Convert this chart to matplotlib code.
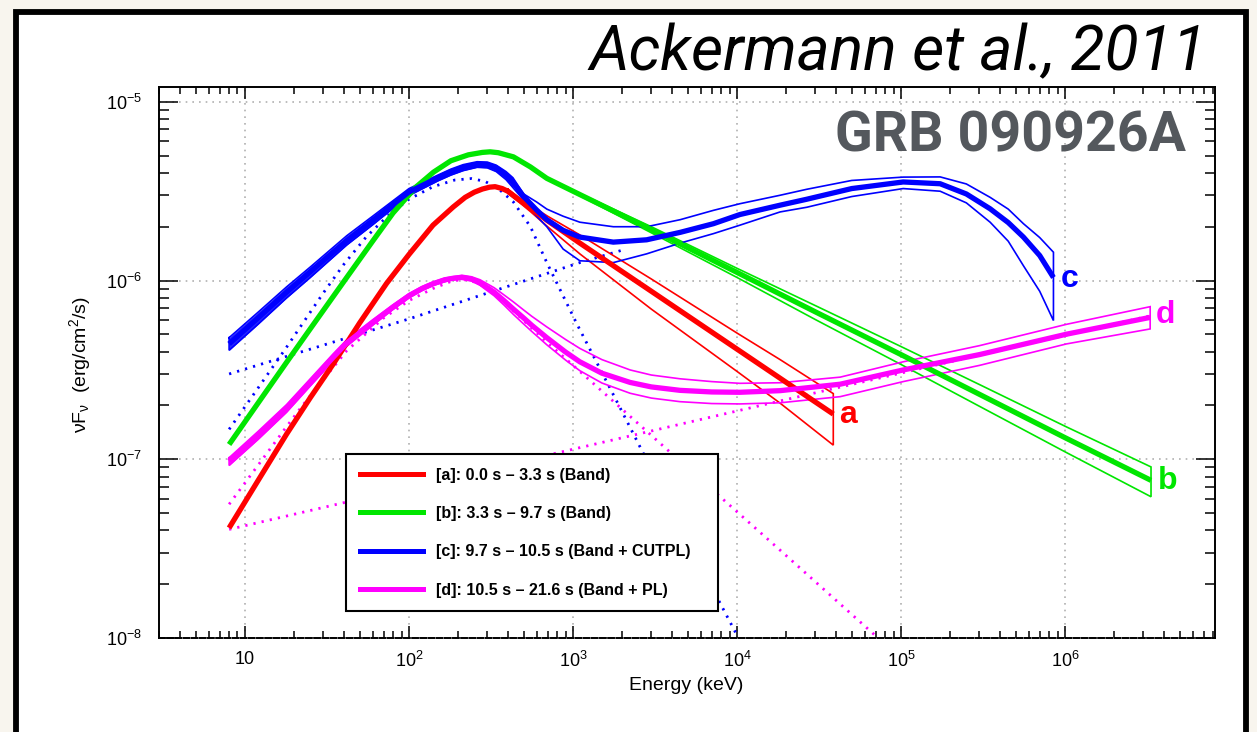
import numpy as np
import matplotlib
matplotlib.use("Agg")
import matplotlib.pyplot as plt
from matplotlib.lines import Line2D
from matplotlib.patches import Rectangle
from matplotlib.ticker import LogLocator, FixedLocator, FuncFormatter, NullFormatter

plt.rcParams['font.family'] = ['Liberation Sans', 'DejaVu Sans']
plt.rcParams['mathtext.fontset'] = 'custom'
plt.rcParams['mathtext.rm'] = 'Liberation Sans'
plt.rcParams['mathtext.it'] = 'Liberation Sans:italic'
plt.rcParams['mathtext.bf'] = 'Liberation Sans:bold'

# ---------------- spectral data: energy (keV) and nuFnu (erg/cm^2/s) ----------------
# [a] 0.0 - 3.3 s, Band
a_E = [8, 12, 17.9, 25, 34.5, 50, 73, 100, 140, 186, 220, 250, 280, 310, 335, 370, 400,
       470, 550, 700, 1100, 3000, 1.0e4, 1.83e4, 3.86e4]
a_F = [4.13e-8, 7.59e-8, 1.38e-7, 2.21e-7, 3.41e-7, 5.79e-7, 9.64e-7, 1.40e-6, 2.04e-6,
       2.58e-6, 2.92e-6, 3.12e-6, 3.25e-6, 3.33e-6, 3.35e-6, 3.27e-6, 3.16e-6, 2.82e-6,
       2.54e-6, 2.16e-6, 1.62e-6, 8.71e-7, 4.13e-7, 2.84e-7, 1.79e-7]
a_band_E = [400, 470, 550, 700, 1100, 3000, 1.0e4, 1.83e4, 3.86e4]
a_hi = [3.25e-6, 2.90e-6, 2.63e-6, 2.29e-6, 1.80e-6, 1.02e-6, 5.08e-7, 3.61e-7, 2.33e-7]
a_lo = [3.08e-6, 2.74e-6, 2.43e-6, 2.00e-6, 1.41e-6, 6.92e-7, 3.10e-7, 2.06e-7, 1.20e-7]

# [b] 3.3 - 9.7 s, Band
b_E = [8, 12, 17.9, 25, 41.7, 60, 80, 110, 141, 180, 230, 280, 312, 350, 433, 550, 692,
       1000, 3000, 1.0e4, 3.0e4, 1.0e5, 3.0e5, 1.0e6, 3.34e6]
b_F = [1.21e-7, 2.06e-7, 3.48e-7, 5.37e-7, 1.04e-6, 1.66e-6, 2.39e-6, 3.33e-6, 4.04e-6,
       4.68e-6, 5.05e-6, 5.21e-6, 5.25e-6, 5.19e-6, 4.92e-6, 4.32e-6, 3.73e-6, 3.16e-6,
       1.93e-6, 1.11e-6, 6.68e-7, 3.85e-7, 2.31e-7, 1.32e-7, 7.62e-8]
b_band_E = [692, 1000, 3000, 1.0e4, 3.0e4, 1.0e5, 3.0e5, 1.0e6, 3.34e6]
b_hi = [3.73e-6, 3.20e-6, 2.00e-6, 1.17e-6, 7.24e-7, 4.27e-7, 2.62e-7, 1.53e-7, 9.06e-8]
b_lo = [3.73e-6, 3.12e-6, 1.85e-6, 1.04e-6, 6.05e-7, 3.39e-7, 1.98e-7, 1.10e-7, 6.17e-8]

# [c] 9.7 - 10.5 s, Band + CUTPL
c_E = [8, 12, 17.9, 25, 41.7, 60, 100, 150, 180, 214, 260, 300, 340, 390, 430, 500,
       600, 692, 870, 1100, 1760, 2810, 4500, 7180, 1.04e4, 1.83e4, 2.66e4, 5.0e4,
       1.03e5, 1.73e5, 2.5e5, 3.49e5, 4.5e5, 5.57e5, 7.0e5, 8.49e5]
c_F = [4.42e-7, 6.17e-7, 8.59e-7, 1.12e-6, 1.67e-6, 2.17e-6, 3.13e-6, 3.76e-6, 4.06e-6,
       4.30e-6, 4.47e-6, 4.45e-6, 4.27e-6, 3.89e-6, 3.55e-6, 2.95e-6, 2.48e-6, 2.19e-6,
       1.91e-6, 1.75e-6, 1.64e-6, 1.69e-6, 1.86e-6, 2.08e-6, 2.34e-6, 2.64e-6, 2.85e-6,
       3.27e-6, 3.56e-6, 3.48e-6, 3.05e-6, 2.52e-6, 2.11e-6, 1.75e-6, 1.38e-6, 1.04e-6]
c_hi = [4.79e-7, 6.64e-7, 9.20e-7, 1.19e-6, 1.78e-6, 2.29e-6, 3.27e-6, 3.89e-6, 4.20e-6,
        4.45e-6, 4.62e-6, 4.60e-6, 4.42e-6, 4.07e-6, 3.76e-6, 3.05e-6, 2.75e-6, 2.51e-6,
        2.29e-6, 2.12e-6, 2.00e-6, 2.00e-6, 2.19e-6, 2.47e-6, 2.69e-6, 3.00e-6, 3.24e-6,
        3.63e-6, 3.79e-6, 3.80e-6, 3.47e-6, 2.92e-6, 2.51e-6, 2.08e-6, 1.74e-6, 1.44e-6]
c_lo = [4.07e-7, 5.69e-7, 7.98e-7, 1.04e-6, 1.58e-6, 2.05e-6, 2.99e-6, 3.61e-6, 3.89e-6,
        4.12e-6, 4.30e-6, 4.27e-6, 4.07e-6, 3.67e-6, 3.31e-6, 2.82e-6, 2.29e-6, 2.00e-6,
        1.50e-6, 1.29e-6, 1.26e-6, 1.41e-6, 1.62e-6, 1.83e-6, 2.04e-6, 2.42e-6, 2.57e-6,
        2.95e-6, 3.27e-6, 3.16e-6, 2.72e-6, 2.12e-6, 1.66e-6, 1.21e-6, 8.71e-7, 5.97e-7]
c_band_comp_E = [8, 12, 17.9, 30, 40, 55, 75, 100, 140, 190, 240, 290, 350, 433, 550,
                 692, 1052, 1936, 2564, 7870, 1.02e4]
c_band_comp_F = [1.47e-7, 2.50e-7, 4.23e-7, 8.51e-7, 1.23e-6, 1.76e-6, 2.32e-6, 2.85e-6,
                 3.35e-6, 3.65e-6, 3.72e-6, 3.59e-6, 3.27e-6, 2.75e-6, 2.00e-6, 1.26e-6,
                 5.75e-7, 1.94e-7, 1.17e-7, 1.57e-8, 1.0e-8]
c_cutpl_E = [8, 100, 1100, 2000]
c_cutpl_F = [3.00e-7, 6.10e-7, 1.26e-6, 1.48e-6]

# [d] 10.5 - 21.6 s, Band + PL
d_E = [8, 12, 17.9, 25, 34.5, 41.7, 60, 80, 100, 120, 140, 165, 186, 210, 240, 271,
       330, 380, 433, 500, 560, 692, 900, 1100, 1500, 2230, 3000, 4490, 7000, 1.04e4,
       1.83e4, 4.25e4, 1.03e5, 3.0e5, 1.02e6, 3.3e6]
d_F = [9.77e-8, 1.36e-7, 1.93e-7, 2.69e-7, 3.72e-7, 4.47e-7, 5.82e-7, 7.11e-7, 8.22e-7,
       9.02e-7, 9.59e-7, 1.01e-6, 1.03e-6, 1.04e-6, 1.02e-6, 9.72e-7, 8.61e-7, 7.71e-7,
       6.92e-7, 6.17e-7, 5.62e-7, 4.79e-7, 3.98e-7, 3.51e-7, 3.03e-7, 2.69e-7, 2.54e-7,
       2.43e-7, 2.38e-7, 2.37e-7, 2.42e-7, 2.63e-7, 3.16e-7, 3.85e-7, 5.01e-7, 6.22e-7]
d_hi = [1.02e-7, 1.43e-7, 2.02e-7, 2.82e-7, 3.89e-7, 4.66e-7, 6.03e-7, 7.33e-7, 8.45e-7,
        9.25e-7, 9.82e-7, 1.03e-6, 1.05e-6, 1.07e-6, 1.05e-6, 1.01e-6, 9.12e-7, 8.30e-7,
        7.59e-7, 6.84e-7, 6.31e-7, 5.50e-7, 4.68e-7, 4.17e-7, 3.61e-7, 3.16e-7, 2.96e-7,
        2.82e-7, 2.72e-7, 2.66e-7, 2.68e-7, 2.88e-7, 3.51e-7, 4.32e-7, 5.69e-7, 7.14e-7]
d_lo = [9.23e-8, 1.29e-7, 1.83e-7, 2.57e-7, 3.55e-7, 4.29e-7, 5.62e-7, 6.90e-7, 8.00e-7,
        8.79e-7, 9.38e-7, 9.84e-7, 1.01e-6, 1.02e-6, 9.95e-7, 9.40e-7, 8.22e-7, 7.28e-7,
        6.46e-7, 5.71e-7, 5.19e-7, 4.37e-7, 3.59e-7, 3.13e-7, 2.67e-7, 2.34e-7, 2.20e-7,
        2.10e-7, 2.05e-7, 2.04e-7, 2.07e-7, 2.24e-7, 2.72e-7, 3.35e-7, 4.42e-7, 5.36e-7]
d_band_comp_E = [8, 12, 17.9, 22.7, 41.7, 70, 100, 140, 186, 230, 271, 350, 433, 550,
                 692, 834, 1760, 3720, 7870, 1.83e4, 7.24e4]
d_band_comp_F = [5.60e-8, 9.25e-8, 1.52e-7, 2.03e-7, 4.05e-7, 6.17e-7, 7.73e-7, 9.02e-7,
                 1.00e-6, 1.01e-6, 9.55e-7, 8.13e-7, 6.76e-7, 5.50e-7, 4.52e-7, 3.89e-7,
                 2.11e-7, 1.14e-7, 6.18e-8, 3.10e-8, 1.0e-8]
d_pl_E = [8, 1.83e4, 3.3e6]
d_pl_F = [4.05e-8, 2.12e-7, 6.35e-7]

legend_labels = ["[a]: 0.0 s \u2013 3.3 s (Band)",
                 "[b]: 3.3 s \u2013 9.7 s (Band)",
                 "[c]: 9.7 s \u2013 10.5 s (Band + CUTPL)",
                 "[d]: 10.5 s \u2013 21.6 s (Band + PL)"]
curve_tags = ["a", "b", "c", "d"]
x_major_ticks = [10, 1e2, 1e3, 1e4, 1e5, 1e6]
y_major_ticks = [1e-8, 1e-7, 1e-6, 1e-5]

RED, GREEN, BLUE, MAGENTA = '#ff0000', '#00e600', '#0000ff', '#ff00ff'

# ---------------- figure and frame ----------------
W, H = 1257, 732
fig = plt.figure(figsize=(W / 100, H / 100), dpi=100)
fig.patch.set_facecolor('#f8f5ee')
frame = Rectangle((15.8 / W, -0.05), (1245.5 - 15.8) / W, 1 - 12 / H + 0.05,
                  transform=fig.transFigure, facecolor='white', edgecolor='black',
                  linewidth=4.2, zorder=-5)
fig.patches.append(frame)

ax = fig.add_axes([159 / W, 1 - 638 / H, (1215 - 159) / W, (638 - 87) / H])
ax.set_zorder(1)
ax.set_facecolor('white')
ax.set_xscale('log')
ax.set_yscale('log')
ax.set_xlim(2.99, 8.2e6)
ax.set_ylim(1e-8, 1.21e-5)

# ---------------- model components (dotted) ----------------
dot = (0, (0.8, 2.2))
ax.plot(c_band_comp_E, c_band_comp_F, color=BLUE, lw=2.0, ls=dot, zorder=2)
ax.plot(c_cutpl_E, c_cutpl_F, color=BLUE, lw=2.0, ls=dot, zorder=2)
ax.plot(d_band_comp_E, d_band_comp_F, color=MAGENTA, lw=2.0, ls=dot, zorder=2)
ax.plot(d_pl_E, d_pl_F, color=MAGENTA, lw=2.0, ls=dot, zorder=2)


def contour(E, hi, lo, color):
    xs = list(E) + list(E[::-1]) + [E[0]]
    ys = list(hi) + list(lo[::-1]) + [hi[0]]
    ax.plot(xs, ys, color=color, lw=1.2, zorder=3, solid_joinstyle='miter')


# ---------------- error contours ----------------
contour(a_band_E, a_hi, a_lo, RED)
contour(b_band_E, b_hi, b_lo, GREEN)
contour(c_E, c_hi, c_lo, BLUE)
contour(d_E, d_hi, d_lo, MAGENTA)

# dense low-energy part of the c and d bands
cE = np.array(c_E)
ax.fill_between(c_E, c_lo, c_hi, where=cE <= 430, color=BLUE, alpha=0.85, lw=0, zorder=3)
dE = np.array(d_E)
ax.fill_between(d_E, d_lo, d_hi, where=dE <= 271, color=MAGENTA, alpha=0.85, lw=0, zorder=3)

# ---------------- best-fit spectra ----------------
lw_c = 3.8
ax.plot(a_E, a_F, color=RED, lw=lw_c, zorder=4, solid_capstyle='butt')
ax.plot(b_E, b_F, color=GREEN, lw=lw_c, zorder=4, solid_capstyle='butt')
ax.plot(d_E, d_F, color=MAGENTA, lw=lw_c, zorder=4, solid_capstyle='butt')
ax.plot(c_E, c_F, color=BLUE, lw=lw_c, zorder=4, solid_capstyle='butt')

# curve tags at the high-energy ends
tag_style = dict(textcoords='offset pixels', fontsize=23, fontweight='bold',
                 ha='left', va='baseline', zorder=6)
ax.annotate(curve_tags[0], (a_E[-1], a_F[-1]), xytext=(6, -9), color=RED, **tag_style)
ax.annotate(curve_tags[1], (b_E[-1], b_F[-1]), xytext=(7, -9), color=GREEN, **tag_style)
ax.annotate(curve_tags[2], (c_E[-1], c_F[-1]), xytext=(7, -10), color=BLUE, **tag_style)
ax.annotate(curve_tags[3], (d_E[-1], d_F[-1]), xytext=(6, -6), color=MAGENTA, **tag_style)

# ---------------- axes styling ----------------
ax.xaxis.set_major_locator(FixedLocator(x_major_ticks))
ax.xaxis.set_minor_locator(LogLocator(base=10, subs=np.arange(2, 10), numticks=200))
ax.yaxis.set_major_locator(FixedLocator(y_major_ticks))
ax.yaxis.set_minor_locator(LogLocator(base=10, subs=np.arange(2, 10), numticks=200))


def xfmt(v, pos):
    e = int(round(np.log10(v)))
    return '10' if e == 1 else r'$10^{%d}$' % e


def yfmt(v, pos):
    e = int(round(np.log10(v)))
    return r'$10^{%d}$' % e


ax.xaxis.set_major_formatter(FuncFormatter(xfmt))
ax.yaxis.set_major_formatter(FuncFormatter(yfmt))
ax.xaxis.set_minor_formatter(NullFormatter())
ax.yaxis.set_minor_formatter(NullFormatter())

ax.tick_params(which='both', direction='in', top=True, right=True, width=1.1,
               color='black', labelsize=13)
ax.tick_params(axis='x', which='major', length=8.6, pad=9)
ax.tick_params(axis='x', which='minor', length=5)
ax.tick_params(axis='y', which='major', length=14, pad=12)
ax.tick_params(axis='y', which='minor', length=7.5)

for s in ax.spines.values():
    s.set_linewidth(1.4)
ax.spines['bottom'].set_linestyle((0, (3, 1.2)))

ax.grid(which='major', color='#b0b0b0', linestyle=(0, (1, 3)), linewidth=1.2)

# ---------------- legend ----------------
handles = [Line2D([], [], color=c, lw=3.6) for c in (RED, GREEN, BLUE, MAGENTA)]
leg = ax.legend(handles, legend_labels, loc='upper left',
                bbox_to_anchor=(0.1771, 0.0, 0.3523, 0.3339), mode='expand',
                borderaxespad=0,
                prop={'family': 'Liberation Sans', 'weight': 'bold', 'size': 11.5},
                frameon=True, fancybox=False, framealpha=1, edgecolor='black',
                borderpad=0.85, labelspacing=1.46, handlelength=4.0, handletextpad=0.8)
leg.get_frame().set_linewidth(1.5)
leg.set_zorder(10)

# ---------------- axis titles and annotations ----------------
fig.text(686 / W, 1 - 686 / H, 'Energy (keV)', ha='center', va='center', fontsize=14)
fig.text(80 / W, 1 - 365 / H, r'νF$_{\rm ν}$  (erg/cm$^{2}$/s)', ha='center', va='center',
         rotation=90, fontsize=14)

fig.text(1207 / W, 1 - 70 / H, 'Ackermann et al., 2011', ha='right', va='baseline',
         fontsize=45, family=['Roboto', 'DejaVu Sans'], style='italic', weight='normal',
         color='black')
fig.text(1186 / W, 1 - 151 / H, 'GRB 090926A', ha='right', va='baseline',
         fontsize=40, family=['Roboto', 'DejaVu Sans'], weight='bold', color='#54585d',
         zorder=8)

fig.savefig('out.png', dpi=100, facecolor=fig.get_facecolor())
